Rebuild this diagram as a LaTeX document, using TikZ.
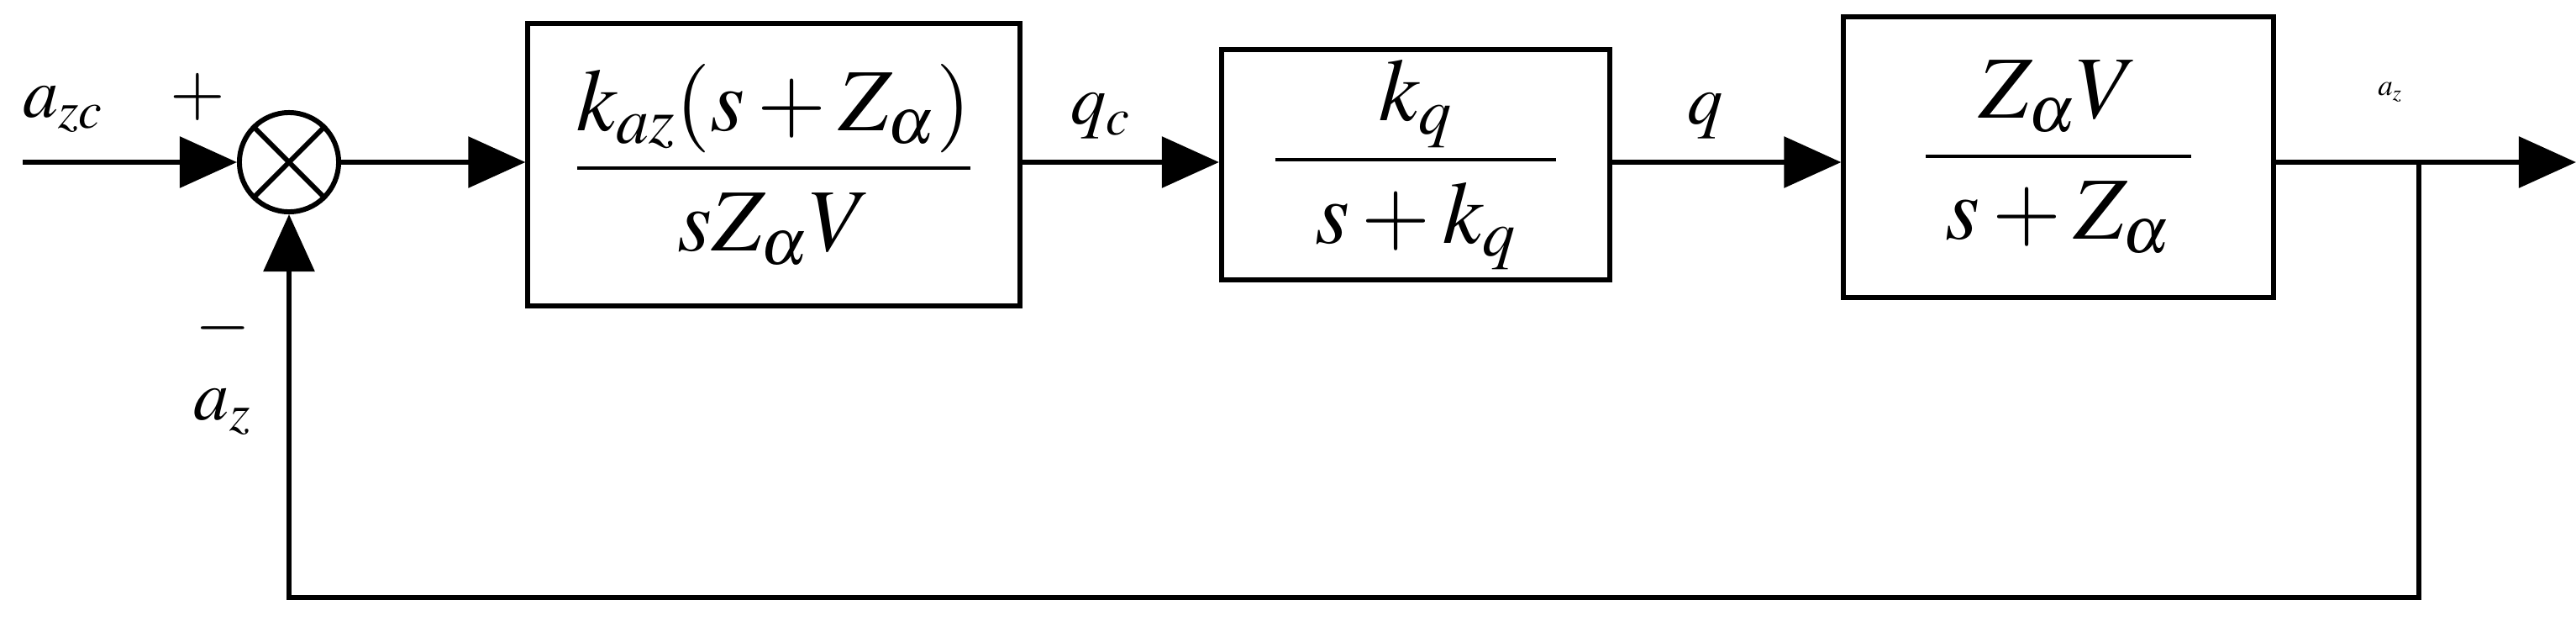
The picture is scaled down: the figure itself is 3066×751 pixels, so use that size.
\documentclass[tikz,border=0pt]{standalone}
\usepackage{amsmath}
\usepackage{mathptmx}
\usetikzlibrary{arrows.meta,positioning}
\begin{document}
\begin{tikzpicture}[x=0.01cm,y=-0.01cm,
  line width=1.7pt,
  blk/.style={draw,rectangle,minimum width=#1,font=\fontsize{30}{36}\selectfont},
  sig/.style={-{Triangle[length=0.68cm,width=0.6cm]}},
  lbl/.style={font=\fontsize{24}{28}\selectfont}]

  \useasboundingbox (0,0) rectangle (3066,751);

  % summing junction
  \node[circle,draw,minimum size=1.18cm,inner sep=0pt] (sum) at (344,193) {};
  \draw (sum.north west) -- (sum.south east);
  \draw (sum.north east) -- (sum.south west);

  % blocks
  \node[blk=5.85cm,minimum height=3.36cm] (g1) at (921,196) {$\dfrac{k_{az}(s+Z_\alpha)}{sZ_\alpha V}$};
  \node[blk=4.62cm,minimum height=2.61cm] (g2) at (1685,196) {$\dfrac{k_q}{\;\;s+k_q\;\;}$};
  \node[blk=5.11cm,minimum height=3.34cm] (g3) at (2450,187) {$\dfrac{Z_\alpha V}{\;s+Z_\alpha\;}$};

  \coordinate (in) at (27,193);
  \coordinate (out) at (3066,193);
  \coordinate (br) at (2879,193);
  \coordinate (fb) at (2879,711);

  % connectors
  \draw[sig] (in) -- (sum.west);
  \draw[sig] (sum.east) -- (g1.west |- sum.east);
  \draw[sig] (g1.east |- sum) -- (g2.west |- sum);
  \draw[sig] (g2.east |- sum) -- (g3.west |- sum);
  \draw[sig] (g3.east |- sum) -- (out);
  \draw[sig] (br) -- (fb) -- (sum |- fb) -- (sum.south);

  % labels
  \node[lbl] at (75,130) {$a_{zc}$};
  \node[lbl] at (235,115) {$+$};
  \node[lbl] at (265,390) {$-$};
  \node[lbl] at (265,490) {$a_z$};
  \node[lbl] at (1310,138) {$q_c$};
  \node[lbl] at (2030,138) {$q$};
  \node[font=\fontsize{10}{12}\selectfont] at (2845,110) {$a_z$};
\end{tikzpicture}
\end{document}
